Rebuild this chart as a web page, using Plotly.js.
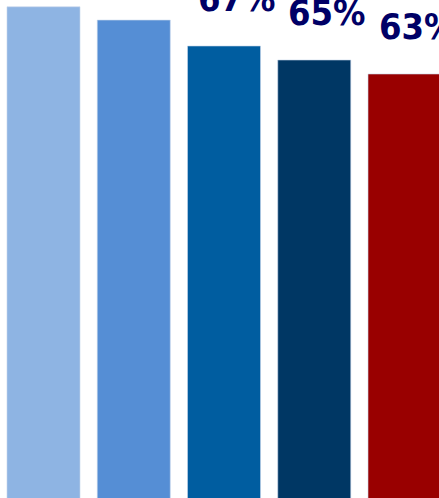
<!DOCTYPE html>
<html>
<head>
<meta charset="utf-8">
<script src="https://cdn.plot.ly/plotly-3.0.1.min.js"></script>
<style>html,body{margin:0;padding:0;background:#fff;overflow:hidden}#chart{width:439px;height:498px}</style>
</head>
<body>
<div id="chart"></div>
<script>
const categories = ["A", "B", "C", "D", "E"];
const values = [72.6, 70.7, 67, 65, 63];
const labels = ["73%", "71%", "67%", "65%", "63%"];
const barColors = ["#8EB4E3", "#558ED5", "#005DA0", "#003764", "#990000"];

const trace = {
  type: "bar",
  x: categories,
  y: values,
  marker: {color: barColors, line: {color: "rgba(200,215,235,0.8)", width: 0.75}},
  width: 0.809,
  hoverinfo: "none"
};

const annotations = categories.map((c, i) => ({
  x: c, y: values[i], text: labels[i],
  xref: "x", yref: "y",
  showarrow: false,
  xanchor: "center", yanchor: "bottom",
  xshift: 13, yshift: 25,
  font: {family: "DejaVu Sans Condensed, DejaVu Sans, sans-serif", size: 36, color: "#000066", weight: "bold"}
}));

const layout = {
  width: 439, height: 498,
  margin: {l: 0, r: 0, t: 0, b: 0, pad: 0},
  paper_bgcolor: "#ffffff", plot_bgcolor: "#ffffff",
  showlegend: false,
  xaxis: {type: "category", range: [-0.482, 4.382], visible: false, showgrid: false, zeroline: false, fixedrange: true},
  yaxis: {range: [2.43, 73.57], visible: false, showgrid: false, zeroline: false, fixedrange: true},
  annotations: annotations
};

Plotly.newPlot("chart", [trace], layout, {displayModeBar: false, staticPlot: true});
</script>
</body>
</html>
